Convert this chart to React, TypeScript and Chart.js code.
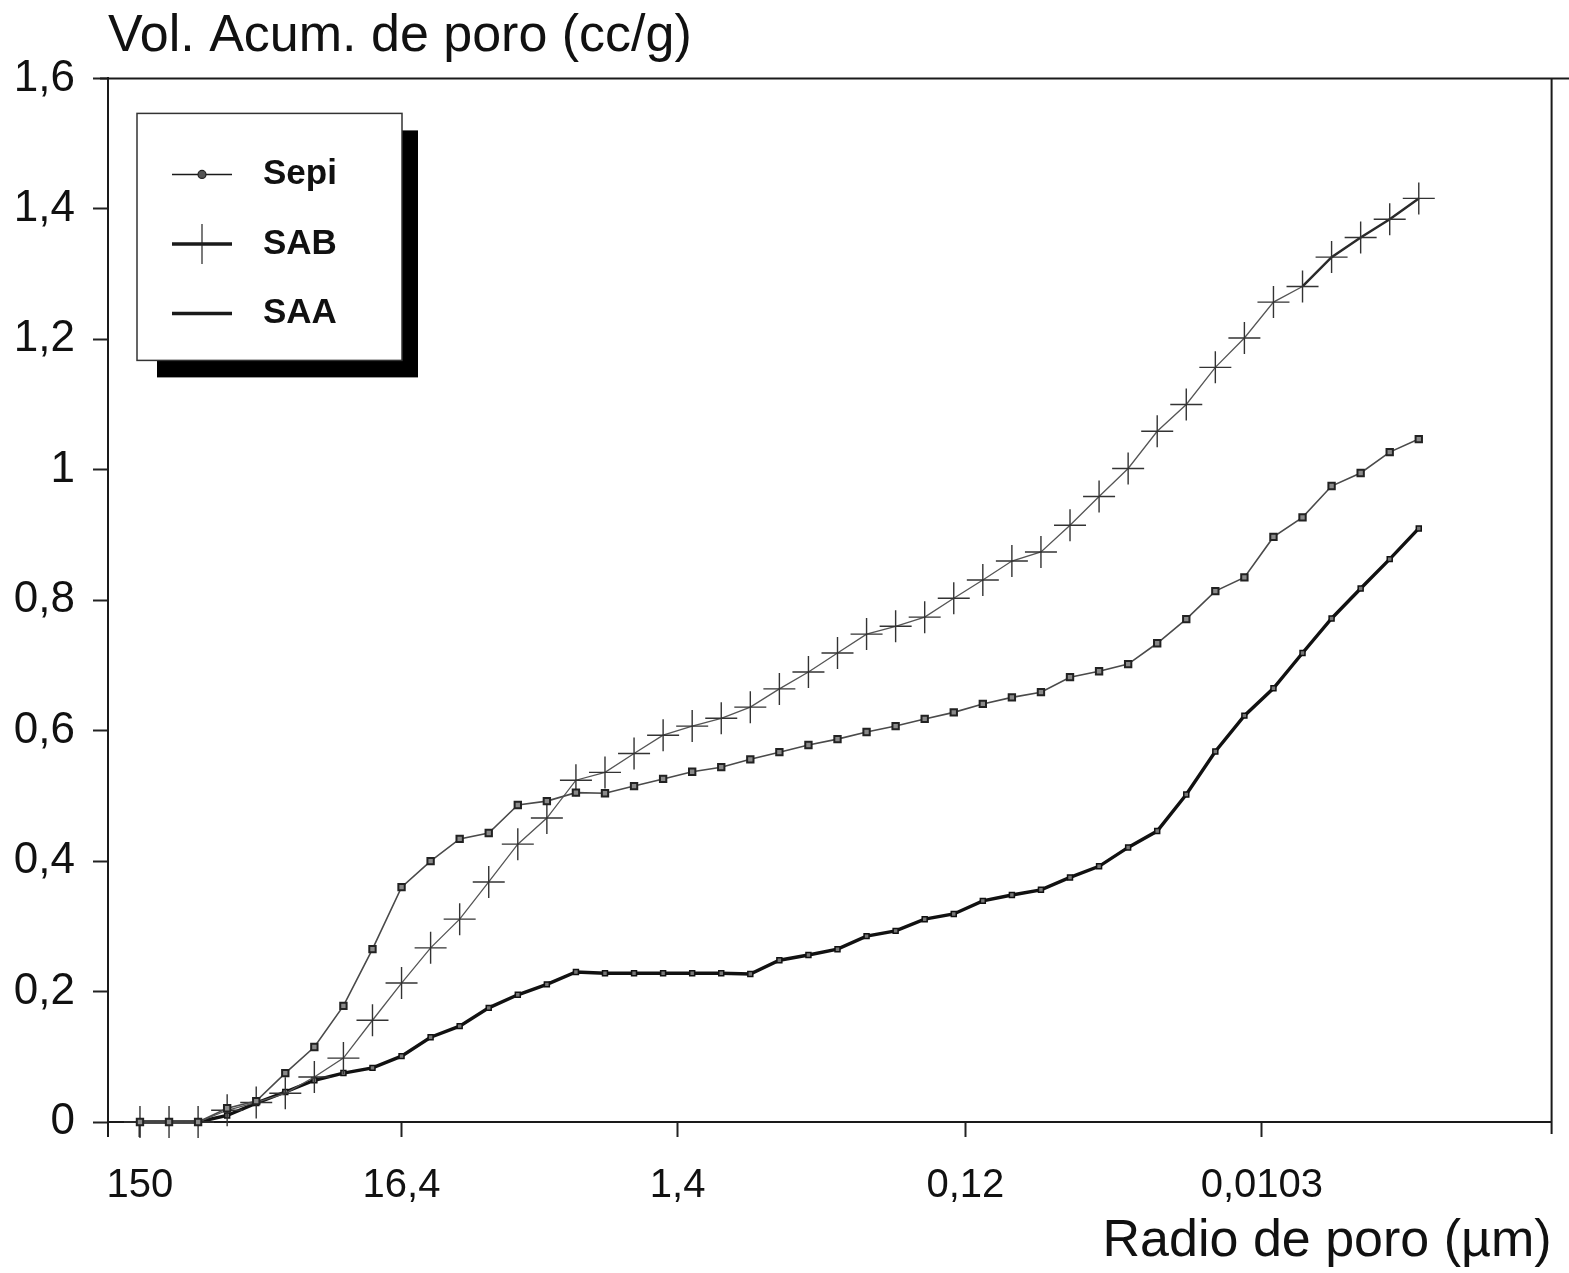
import React, { useEffect, useRef } from 'react';
import { Chart, registerables } from 'chart.js';
import { drawPoint } from 'chart.js/helpers';

Chart.register(...registerables);

// ---- data (point index runs along the pore-radius axis, 150 µm -> ~0.003 µm) ----
const SERIES_NAMES = ['Sepi', 'SAB', 'SAA'];

const SEPI = [
  0, 0, 0, 0.021, 0.032, 0.075, 0.115, 0.178, 0.265, 0.36,
  0.4, 0.434, 0.443, 0.486, 0.492, 0.505, 0.504, 0.515, 0.526, 0.537,
  0.544, 0.556, 0.567, 0.578, 0.587, 0.598, 0.607, 0.618, 0.628, 0.641,
  0.651, 0.659, 0.682, 0.691, 0.702, 0.734, 0.771, 0.814, 0.835, 0.897,
  0.927, 0.975, 0.995, 1.027, 1.047,
];

const SAB = [
  0, 0, 0, 0.018, 0.03, 0.044, 0.069, 0.098, 0.156, 0.213,
  0.267, 0.311, 0.368, 0.426, 0.466, 0.524, 0.536, 0.565, 0.593, 0.607,
  0.619, 0.636, 0.664, 0.69, 0.719, 0.748, 0.76, 0.774, 0.803, 0.831,
  0.86, 0.874, 0.915, 0.959, 1.002, 1.059, 1.1, 1.157, 1.202, 1.257,
  1.281, 1.326, 1.356, 1.384, 1.416,
];

const SAA = [
  0, 0, 0, 0.01, 0.029, 0.046, 0.064, 0.075, 0.083, 0.101,
  0.13, 0.147, 0.175, 0.195, 0.211, 0.23, 0.228, 0.228, 0.228, 0.228,
  0.228, 0.227, 0.248, 0.256, 0.265, 0.285, 0.293, 0.311, 0.319, 0.339,
  0.348, 0.356, 0.375, 0.392, 0.421, 0.446, 0.502, 0.568, 0.623, 0.665,
  0.719, 0.772, 0.818, 0.863, 0.91,
];

const X_TICK_LABELS = ['150', '16,4', '1,4', '0,12', '0,0103'];
const X_TICK_INDEX = [0, 9, 18.5, 28.4, 38.6];
const Y_TICK_LABELS = ['0', '0,2', '0,4', '0,6', '0,8', '1', '1,2', '1,4', '1,6'];

const FONT = '"Liberation Sans", Arial, Helvetica, sans-serif';

const toXY = (arr: number[]) => arr.map((v, i) => ({ x: i, y: v }));

const framePlugin = {
  id: 'frame',
  beforeDatasetsDraw(chart: any) {
    const { ctx, chartArea } = chart;
    ctx.save();
    ctx.strokeStyle = '#1a1a1a';
    ctx.lineWidth = 2;
    ctx.beginPath();
    ctx.moveTo(chartArea.left - 8, chartArea.top);
    ctx.lineTo(chart.width, chartArea.top);
    ctx.moveTo(chartArea.right, chartArea.top);
    ctx.lineTo(chartArea.right, chartArea.bottom + 12);
    ctx.moveTo(chartArea.left, chartArea.bottom);
    ctx.lineTo(chartArea.left, chartArea.bottom + 15);
    ctx.stroke();
    ctx.restore();
  },
};

const boxLegendPlugin = {
  id: 'boxLegend',
  afterDraw(chart: any) {
    const ctx = chart.ctx;
    const left = chart.chartArea.left + 29;
    const top = chart.chartArea.top + 35;
    const w = 265;
    const h = 247;
    ctx.save();
    ctx.fillStyle = '#000';
    ctx.fillRect(left + 20, top + 17, w - 4, h);
    ctx.fillStyle = '#fff';
    ctx.fillRect(left, top, w, h);
    ctx.strokeStyle = '#333';
    ctx.lineWidth = 1.5;
    ctx.strokeRect(left, top, w, h);

    const legendStyles = [
      { lw: 1.5, style: 'circle', r: 4 },
      { lw: 3.5, style: 'line', r: 20, rot: 90 },
      { lw: 3.5, style: false, r: 0 },
    ];
    chart.data.datasets.forEach((ds: any, i: number) => {
      const y = top + 61 + i * 69.5;
      const st = legendStyles[i];
      ctx.strokeStyle = '#1a1a1a';
      ctx.lineWidth = st.lw;
      ctx.beginPath();
      ctx.moveTo(left + 35, y);
      ctx.lineTo(left + 95, y);
      ctx.stroke();
      if (st.style) {
        ctx.lineWidth = 1.2;
        ctx.fillStyle = '#555';
        ctx.strokeStyle = '#222';
        drawPoint(ctx, { pointStyle: st.style, radius: st.r, rotation: st.rot || 0, borderWidth: 1.2 }, left + 65, y);
      }
      ctx.fillStyle = '#111';
      ctx.font = `bold 35px ${FONT}`;
      ctx.textAlign = 'left';
      ctx.textBaseline = 'middle';
      ctx.fillText(ds.label, left + 126, y);
    });
    ctx.restore();
  },
};

export default function App() {
  const canvasRef = useRef<HTMLCanvasElement | null>(null);

  useEffect(() => {
    document.body.style.margin = '0';
    document.body.style.background = '#fff';
    const canvas = canvasRef.current;
    if (!canvas) return;

    const chart = new Chart(canvas, {
      type: 'line',
      data: {
        datasets: [
          {
            label: SERIES_NAMES[0],
            data: toXY(SEPI),
            borderColor: '#4a4a4a',
            borderWidth: 1.6,
            pointStyle: 'rect',
            pointRadius: 4.5,
            pointBackgroundColor: '#8a8a8a',
            pointBorderColor: '#222',
            pointBorderWidth: 2,
            clip: false,
          },
          {
            label: SERIES_NAMES[1],
            data: toXY(SAB),
            borderColor: '#555',
            borderWidth: 1.3,
            pointStyle: 'cross',
            pointRadius: 16,
            pointBorderColor: '#333',
            pointBorderWidth: 1.4,
            segment: {
              borderWidth: (c: any) => (c.p0DataIndex >= 40 ? 2.5 : 1.3),
              borderColor: (c: any) => (c.p0DataIndex >= 40 ? '#2a2a2a' : '#555'),
            },
            clip: false,
          },
          {
            label: SERIES_NAMES[2],
            data: toXY(SAA),
            borderColor: '#111',
            borderWidth: 3.4,
            pointStyle: 'rect',
            pointRadius: 3.5,
            pointBackgroundColor: '#777',
            pointBorderColor: '#111',
            pointBorderWidth: 1.5,
            clip: false,
          },
        ],
      },
      options: {
        responsive: false,
        animation: false,
        devicePixelRatio: 1,
        layout: { padding: { left: 0, right: 17, top: 0, bottom: 0 } },
        elements: { line: { tension: 0 } },
        plugins: {
          legend: { display: false },
          tooltip: { enabled: false },
          title: {
            display: true,
            text: 'Vol. Acum. de poro (cc/g)',
            align: 'start',
            fullSize: false,
            color: '#111',
            font: { family: FONT, size: 52, weight: 'normal', lineHeight: 1.2 },
            padding: { top: 5, bottom: 11 },
          },
        },
        scales: {
          x: {
            type: 'linear',
            min: -1.1,
            max: 48.57,
            afterFit: (s: any) => {
              s.height = 151;
            },
            afterBuildTicks: (s: any) => {
              s.ticks = X_TICK_INDEX.map((v) => ({ value: v }));
            },
            grid: {
              drawOnChartArea: false,
              drawTicks: true,
              tickLength: 15,
              tickColor: '#222',
              tickWidth: 2,
            },
            border: { display: true, color: '#1a1a1a', width: 2 },
            ticks: {
              autoSkip: false,
              maxRotation: 0,
              minRotation: 0,
              padding: 25,
              color: '#111',
              font: { family: FONT, size: 40 },
              callback: (_v: any, i: number) => X_TICK_LABELS[i],
            },
            title: {
              display: true,
              text: 'Radio de poro (µm)',
              align: 'end',
              color: '#111',
              font: { family: FONT, size: 52, lineHeight: 1.2 },
              padding: { top: 0, bottom: 0 },
            },
          },
          y: {
            type: 'linear',
            min: 0,
            max: 1.6,
            afterFit: (s: any) => {
              s.width = 108;
            },
            grid: {
              drawOnChartArea: false,
              drawTicks: true,
              tickLength: 15,
              tickColor: '#222',
              tickWidth: 2,
            },
            border: { display: true, color: '#1a1a1a', width: 2 },
            ticks: {
              stepSize: 0.2,
              padding: 18,
              color: '#111',
              font: { family: FONT, size: 44 },
              callback: (_v: any, i: number) => Y_TICK_LABELS[i],
            },
          },
        },
      },
      plugins: [framePlugin, boxLegendPlugin],
    } as any);

    return () => chart.destroy();
  }, []);

  return (
    <div style={{ width: 1569, height: 1273, background: '#fff' }}>
      <canvas ref={canvasRef} width={1569} height={1273} style={{ display: 'block', width: 1569, height: 1273 }} />
    </div>
  );
}
